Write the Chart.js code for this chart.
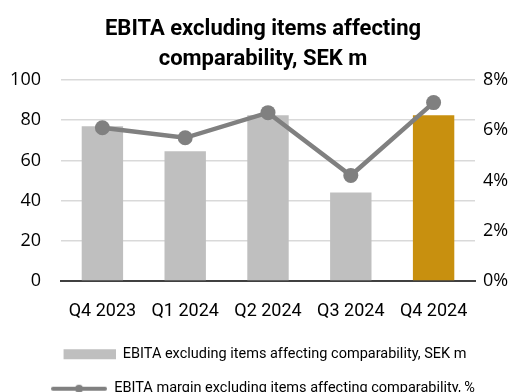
<!DOCTYPE html>
<html>
<head>
<meta charset="utf-8">
<script src="https://cdn.jsdelivr.net/npm/chart.js"></script>
<style>
  body { margin: 0; background: #fff; }
</style>
</head>
<body>
<canvas id="chart" width="526" height="392"></canvas>
<script>
// data
const categories = ['Q4 2023', 'Q1 2024', 'Q2 2024', 'Q3 2024', 'Q4 2024'];
const ebita = [77, 64.5, 82.5, 44, 82.5];
const margin = [6.1, 5.7, 6.7, 4.2, 7.1];
const leftTicks = [0, 20, 40, 60, 80, 100];
const rightTicks = [0, 2, 4, 6, 8];
const barLabel = 'EBITA excluding items affecting comparability, SEK m';
const lineLabel = 'EBITA margin excluding items affecting comparability, %';

const grey = '#BFBFBF';
const gold = '#C8900F';
const lineGrey = '#808080';

// legend symbols
function barSymbol() {
  const c = document.createElement('canvas');
  c.width = 56; c.height = 12;
  const g = c.getContext('2d');
  g.fillStyle = grey;
  g.fillRect(4, 1, 52, 10);
  return c;
}
function lineSymbol() {
  const c = document.createElement('canvas');
  c.width = 56; c.height = 12;
  const g = c.getContext('2d');
  g.strokeStyle = lineGrey;
  g.lineWidth = 4;
  g.lineCap = 'round';
  g.beginPath(); g.moveTo(2, 6); g.lineTo(54, 6); g.stroke();
  g.fillStyle = lineGrey;
  g.beginPath(); g.arc(28, 6, 4, 0, Math.PI * 2); g.fill();
  return c;
}

new Chart(document.getElementById('chart'), {
  data: {
    labels: categories,
    datasets: [
      {
        type: 'line',
        label: lineLabel,
        data: margin,
        yAxisID: 'y1',
        borderColor: lineGrey,
        backgroundColor: lineGrey,
        borderWidth: 4.5,
        pointRadius: 7.5,
        pointHoverRadius: 7.5,
        pointBackgroundColor: lineGrey,
        pointBorderWidth: 0,
        order: 0
      },
      {
        type: 'bar',
        label: barLabel,
        data: ebita,
        yAxisID: 'y',
        backgroundColor: categories.map((c, i) => i === categories.length - 1 ? gold : grey),
        barPercentage: 0.5,
        categoryPercentage: 1,
        order: 1
      }
    ]
  },
  options: {
    responsive: false,
    animation: false,
    layout: { padding: { left: 0, right: 0, bottom: -14 } },
    plugins: {
      title: {
        display: true,
        text: ['EBITA excluding items affecting', 'comparability, SEK m'],
        color: '#000',
        font: { family: 'Roboto', size: 22, weight: 'bold', lineHeight: 1.35 },
        padding: { top: 15, bottom: 5.6 }
      },
      legend: {
        position: 'bottom',
        labels: {
          usePointStyle: true,
          pointStyleWidth: 56,
          color: '#000',
          font: { family: 'Roboto', size: 14.5 },
          padding: 20,
          generateLabels: () => [
            { text: barLabel, pointStyle: barSymbol(), fillStyle: grey, strokeStyle: grey, lineWidth: 0, datasetIndex: 1 },
            { text: lineLabel, pointStyle: lineSymbol(), fillStyle: lineGrey, strokeStyle: lineGrey, lineWidth: 0, datasetIndex: 0 }
          ]
        }
      },
      tooltip: { enabled: false }
    },
    scales: {
      x: {
        grid: { display: false, drawTicks: false },
        border: { color: '#404040', width: 2 },
        afterFit: s => { s.height = 46; },
        ticks: { color: '#000', font: { family: 'Roboto', size: 18 }, padding: 20, maxRotation: 0 }
      },
      y: {
        position: 'left',
        min: 0, max: 100,
        afterBuildTicks: s => { s.ticks = leftTicks.map(v => ({ value: v })); },
        afterFit: s => { s.width = 61; },
        grid: { color: '#D9D9D9', lineWidth: 1.5, drawTicks: false },
        border: { display: false },
        ticks: { color: '#000', font: { family: 'Open Sans', size: 18 }, padding: 20 }
      },
      y1: {
        position: 'right',
        min: 0, max: 8,
        afterBuildTicks: s => { s.ticks = rightTicks.map(v => ({ value: v })); },
        afterFit: s => { s.width = 51; },
        grid: { display: false, drawTicks: false },
        border: { display: false },
        ticks: { color: '#000', font: { family: 'Open Sans', size: 18 }, padding: 8, callback: v => v + '%' }
      }
    }
  }
});
</script>
</body>
</html>
